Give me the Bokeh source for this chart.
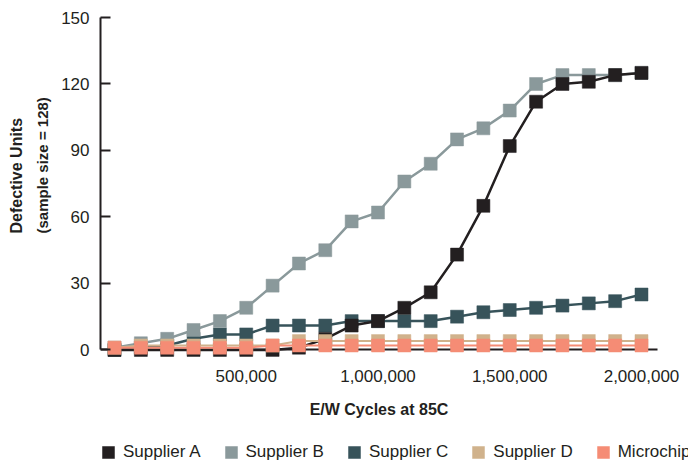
from bokeh.plotting import figure
from bokeh.models import (FixedTicker, NumeralTickFormatter, Legend, LegendItem,
                          Range1d, ColumnDataSource, Title)
from bokeh.embed import file_html
from bokeh.resources import INLINE

# ---- data ----
cycles = [0, 100000, 200000, 300000, 400000, 500000, 600000, 700000, 800000,
          900000, 1000000, 1100000, 1200000, 1300000, 1400000, 1500000,
          1600000, 1700000, 1800000, 1900000, 2000000]
supplier_a = [0, 0, 0, 0, 0, 0, 0, 1, 5, 11, 13, 19, 26, 43, 65, 92, 112, 120, 121, 124, 125]
supplier_b = [1, 3, 5, 9, 13, 19, 29, 39, 45, 58, 62, 76, 84, 95, 100, 108, 120, 124, 124, 124, 125]
supplier_c = [0, 1, 2, 5, 7, 7, 11, 11, 11, 13, 13, 13, 13, 15, 17, 18, 19, 20, 21, 22, 25]
supplier_d = [1, 2, 2, 2, 2, 2, 2, 4, 4, 4, 4, 4, 4, 4, 4, 4, 4, 4, 4, 4, 4]
microchip = [1, 1, 1, 1, 1, 1, 2, 2, 2, 2, 2, 2, 2, 2, 2, 2, 2, 2, 2, 2, 2]

series_names = ["Supplier A", "Supplier B", "Supplier C", "Supplier D", "Microchip"]
x_ticks = [500000, 1000000, 1500000, 2000000]
y_ticks = [0, 30, 60, 90, 120, 150]

colors = {
    "Supplier A": "#231f20",
    "Supplier B": "#8a999b",
    "Supplier C": "#37535a",
    "Supplier D": "#d0b28c",
    "Microchip": "#f58c75",
}
values = {
    "Supplier A": supplier_a,
    "Supplier B": supplier_b,
    "Supplier C": supplier_c,
    "Supplier D": supplier_d,
    "Microchip": microchip,
}
FONT = "Liberation Sans"
INK = "#231f20"

p = figure(width=688, height=460, output_backend="svg", toolbar_location=None,
           x_range=Range1d(-53130, 2178400), y_range=Range1d(-49.9, 150),
           min_border_left=100, min_border_right=0, min_border_top=17,
           min_border_bottom=0)
p.grid.visible = False
p.outline_line_color = None
p.background_fill_color = "white"
p.border_fill_color = "white"

scatter_renderers = {}
draw_order = ["Supplier C", "Supplier B", "Supplier A", "Supplier D", "Microchip"]
for name in draw_order:
    src = ColumnDataSource(dict(x=cycles, y=values[name]))
    lw = 2.5 if name in ("Supplier A", "Supplier B", "Supplier C") else 2
    p.line("x", "y", source=src, line_color=colors[name], line_width=lw)
    scatter_renderers[name] = p.scatter("x", "y", source=src, marker="square", size=13,
                                        fill_color=colors[name], line_color=colors[name],
                                        line_width=0.5)

# ---- y axis ----
ya = p.yaxis[0]
ya.ticker = FixedTicker(ticks=y_ticks)
ya.bounds = (0, 150)
ya.axis_line_color = INK
ya.axis_line_width = 2
ya.major_tick_line_color = INK
ya.major_tick_line_width = 2
ya.major_tick_in = 10
ya.major_tick_out = 0
ya.minor_tick_line_color = None
ya.major_label_standoff = 11
ya.major_label_text_font = FONT
ya.major_label_text_font_size = "17px"
ya.major_label_text_color = INK

# y axis title: two lines starting at the same height, reading upwards
t_inner = Title(text="(sample size = 128)", align="left", offset=227, standoff=15,
                text_font=FONT, text_font_size="15px", text_font_style="bold",
                text_color=INK)
t_outer = Title(text="Defective Units", align="left", offset=227, standoff=0,
                text_font=FONT, text_font_size="16px", text_font_style="bold",
                text_color=INK)
p.add_layout(t_inner, "left")
p.add_layout(t_outer, "left")

# ---- x axis (drawn at y = 0 inside the frame, beneath the markers) ----
xa = p.xaxis[0]
xa.ticker = FixedTicker(ticks=x_ticks)
xa.formatter = NumeralTickFormatter(format="0,0")
xa.fixed_location = 0
xa.bounds = (-53130, 2059600)
xa.level = "underlay"
xa.axis_line_color = INK
xa.axis_line_width = 2
xa.major_tick_in = 0
xa.major_tick_out = 0
xa.minor_tick_line_color = None
xa.major_label_standoff = 20
xa.major_label_text_font = FONT
xa.major_label_text_font_size = "17px"
xa.major_label_text_color = INK
xa.axis_label = "E/W Cycles at 85C"
xa.axis_label_text_font = FONT
xa.axis_label_text_font_size = "16px"
xa.axis_label_text_font_style = "bold"
xa.axis_label_text_color = INK
xa.axis_label_standoff = 16

# ---- legend (inside the frame, at its bottom) ----
items = [LegendItem(label=n, renderers=[scatter_renderers[n]]) for n in series_names]
legend = Legend(items=items, orientation="horizontal", location=(-7, -7),
                glyph_width=30, glyph_height=30, label_height=30,
                label_standoff=0, spacing=15,
                padding=0, margin=0, border_line_color=None,
                background_fill_alpha=0,
                label_text_font=FONT, label_text_font_size="17px",
                label_text_color=INK)
p.add_layout(legend)

open("out.html", "w").write(file_html(p, INLINE))
